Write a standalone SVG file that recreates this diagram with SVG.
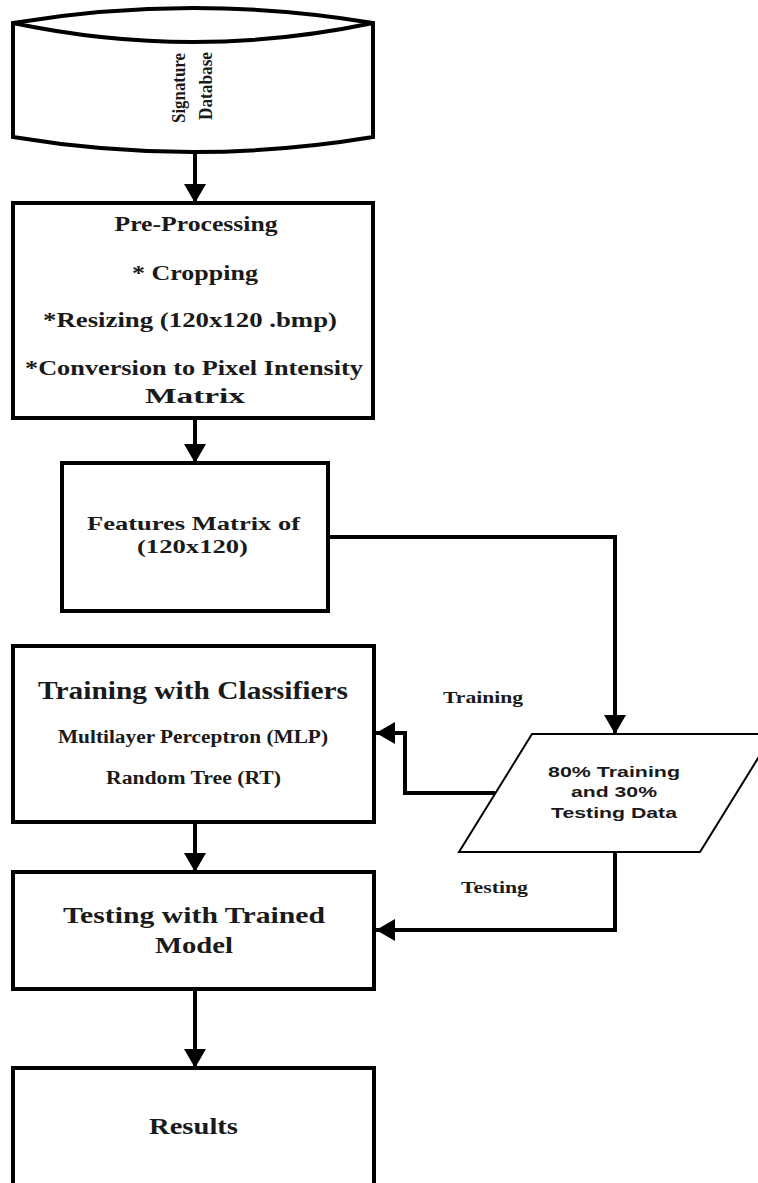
<svg xmlns="http://www.w3.org/2000/svg" width="758" height="1183" viewBox="0 0 758 1183">
<style>
.box{fill:#fff;stroke:#000;stroke-width:4}
.thin{fill:#fff;stroke:#000;stroke-width:2}
.con{fill:none;stroke:#000;stroke-width:4}
.t{font-family:"Liberation Serif","Times New Roman",serif;font-weight:bold;fill:#1a1a1a;text-anchor:middle}
.s{font-family:"Liberation Sans",Arial,sans-serif;font-weight:bold;fill:#1a1a1a;text-anchor:middle}
</style>
<defs>
<marker id="ah" markerUnits="userSpaceOnUse" markerWidth="20" markerHeight="22" refX="19" refY="11" orient="auto" viewBox="0 0 20 22">
<path d="M0,0 L19,11 L0,22 Z" fill="#000"/>
</marker>
</defs>
<rect width="758" height="1183" fill="#fff"/>
<g id="connectors">
<line class="con" x1="195" y1="152" x2="195" y2="203" marker-end="url(#ah)"/>
<line class="con" x1="195" y1="418" x2="195" y2="463" marker-end="url(#ah)"/>
<polyline class="con" points="328,537 615,537 615,734" marker-end="url(#ah)"/>
<polyline class="con" points="495,793 405,793 405,733 376,733" marker-end="url(#ah)"/>
<line class="con" x1="195" y1="822" x2="195" y2="872" marker-end="url(#ah)"/>
<polyline class="con" points="615,852 615,930 376,930" marker-end="url(#ah)"/>
<line class="con" x1="195" y1="989" x2="195" y2="1068" marker-end="url(#ah)"/>
</g>
<g id="database">
<path class="box" d="M13,23 L13,137 Q193,167 373,137 L373,23 Q193,-7 13,23 Z"/>
<path class="box" d="M13,23 Q193,61 373,23" fill="none"/>
<text class="t" font-size="19" transform="translate(185,88) rotate(-90)" textLength="70" lengthAdjust="spacingAndGlyphs">Signature</text>
<text class="t" font-size="19" transform="translate(212,86) rotate(-90)" textLength="68" lengthAdjust="spacingAndGlyphs">Database</text>
</g>
<g id="preprocessing">
<rect class="box" x="13" y="203" width="360" height="215"/>
<text class="t" font-size="21" x="196" y="231" textLength="163" lengthAdjust="spacingAndGlyphs">Pre-Processing</text>
<text class="t" font-size="21" x="195" y="280" textLength="126" lengthAdjust="spacingAndGlyphs">* Cropping</text>
<text class="t" font-size="21" x="190" y="327" textLength="294" lengthAdjust="spacingAndGlyphs">*Resizing (120x120 .bmp)</text>
<text class="t" font-size="21" x="194" y="375" textLength="338" lengthAdjust="spacingAndGlyphs">*Conversion to Pixel Intensity</text>
<text class="t" font-size="21" x="195" y="403" textLength="100" lengthAdjust="spacingAndGlyphs">Matrix</text>
</g>
<g id="features">
<rect class="box" x="62" y="463" width="266" height="148"/>
<text class="t" font-size="19" x="193.5" y="530" textLength="213" lengthAdjust="spacingAndGlyphs">Features Matrix of</text>
<text class="t" font-size="19" x="192.5" y="553" textLength="111" lengthAdjust="spacingAndGlyphs">(120x120)</text>
</g>
<g id="training">
<rect class="box" x="13" y="646" width="361" height="176"/>
<text class="t" font-size="25" x="193" y="699" textLength="310" lengthAdjust="spacingAndGlyphs">Training with Classifiers</text>
<text class="t" font-size="18" x="193" y="743" textLength="270" lengthAdjust="spacingAndGlyphs">Multilayer Perceptron (MLP)</text>
<text class="t" font-size="18" x="193.5" y="784" textLength="175" lengthAdjust="spacingAndGlyphs">Random Tree (RT)</text>
</g>
<g id="split">
<polygon class="thin" points="532,734 773,734 700,852 459,852"/>
<text class="s" font-size="15" x="614" y="777" textLength="132" lengthAdjust="spacingAndGlyphs">80% Training</text>
<text class="s" font-size="15" x="614" y="797" textLength="86" lengthAdjust="spacingAndGlyphs">and 30%</text>
<text class="s" font-size="15" x="614" y="818" textLength="126" lengthAdjust="spacingAndGlyphs">Testing Data</text>
</g>
<g id="labels">
<text class="t" font-size="16" x="483" y="703" textLength="80" lengthAdjust="spacingAndGlyphs">Training</text>
<text class="t" font-size="16" x="494.5" y="893" textLength="67" lengthAdjust="spacingAndGlyphs">Testing</text>
</g>
<g id="testing">
<rect class="box" x="13" y="872" width="361" height="117"/>
<text class="t" font-size="23" x="194" y="923" textLength="262" lengthAdjust="spacingAndGlyphs">Testing with Trained</text>
<text class="t" font-size="23" x="194" y="953" textLength="78" lengthAdjust="spacingAndGlyphs">Model</text>
</g>
<g id="results">
<rect class="box" x="13" y="1068" width="361" height="130"/>
<text class="t" font-size="24" x="193.5" y="1134" textLength="89" lengthAdjust="spacingAndGlyphs">Results</text>
</g>
</svg>
